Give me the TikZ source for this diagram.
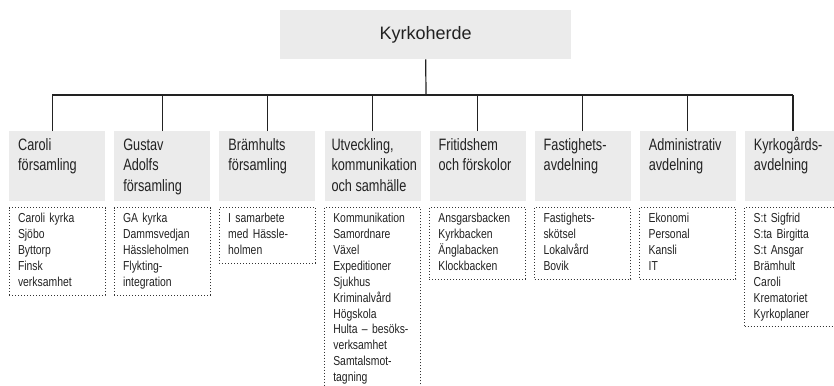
\documentclass[tikz,border=0pt]{standalone}
\usepackage{fontspec}
\setmainfont{Liberation Sans}
\newfontfamily\hdrfont{Liberation Sans}[FakeStretch=0.77]
\newfontfamily\lstfont{Liberation Sans}[FakeStretch=0.8]
\definecolor{boxgray}{HTML}{EBEBEB}
\definecolor{txt}{HTML}{222222}
\definecolor{linec}{HTML}{222222}
\definecolor{dotc}{HTML}{333333}
\begin{document}
\begin{tikzpicture}[x=1pt,y=-1pt,
  hdrbox/.style={fill=boxgray, minimum width=96pt, minimum height=70pt, inner sep=0pt, anchor=north west},
  hdrtext/.style={anchor=north west, inner sep=0pt, align=left, font=\hdrfont\fontsize{16.5}{20.5}\selectfont, text=txt},
  lstbox/.style={draw=dotc, line width=1pt, dash pattern=on 1pt off 2pt, anchor=north west, text width=78pt, inner xsep=9pt, inner ysep=4pt, align=left, font=\lstfont\fontsize{13}{15.9}\selectfont, text=txt},
  conn/.style={draw=linec, line width=1.2pt}]
\useasboundingbox (0,0) rectangle (834,385);
\clip (0,0) rectangle (834,385);

% top box
\node[fill=boxgray, minimum width=291pt, minimum height=49pt, inner sep=0pt, anchor=north west] (boss) at (280,10) {};
\node[font=\fontsize{18}{22}\selectfont, text=txt, inner sep=0pt] (bosstext) at (boss.center) {Kyrkoherde};
\coordinate (bus) at (426,95);

% header boxes
\node[hdrbox] (h1) at (9,131) {};
\node[hdrbox] (h2) at (114.1,131) {};
\node[hdrbox] (h3) at (219.2,131) {};
\node[hdrbox] (h4) at (324.3,131) {};
\node[hdrbox] (h5) at (429.4,131) {};
\node[hdrbox] (h6) at (534.5,131) {};
\node[hdrbox] (h7) at (639.6,131) {};
\node[hdrbox] (h8) at (744.7,131) {};

% header texts
\node[hdrtext] (t1) at ([shift={(9,4.6)}]h1.north west) {\strut Caroli\\\strut församling};
\node[hdrtext] (t2) at ([shift={(9,4.6)}]h2.north west) {\strut Gustav\\\strut Adolfs\\\strut församling};
\node[hdrtext] (t3) at ([shift={(9,4.6)}]h3.north west) {\strut Brämhults\\\strut församling};
\node[hdrtext] (t4) at ([shift={(7,4.6)}]h4.north west) {\strut Utveckling,\\\strut kommunikation\\\strut och samhälle};
\node[hdrtext] (t5) at ([shift={(9,4.6)}]h5.north west) {\strut Fritidshem\\\strut och förskolor};
\node[hdrtext] (t6) at ([shift={(9,4.6)}]h6.north west) {\strut Fastighets-\\\strut avdelning};
\node[hdrtext] (t7) at ([shift={(9,4.6)}]h7.north west) {\strut Administrativ\\\strut avdelning};
\node[hdrtext] (t8) at ([shift={(9,4.6)}]h8.north west) {\strut Kyrkogårds-\\\strut avdelning};

% connectors
\draw[conn] (boss.south) -- (bus);
\draw[conn] ([xshift=-5pt]h1.north |- bus) -- (h8.north |- bus);
\draw[conn] ([xshift=-5pt]h1.north) -- ([xshift=-5pt]h1.north |- bus);
\draw[conn] (h2.north) -- (h2.north |- bus);
\draw[conn] (h3.north) -- (h3.north |- bus);
\draw[conn] (h4.north) -- (h4.north |- bus);
\draw[conn] (h5.north) -- (h5.north |- bus);
\draw[conn] (h6.north) -- (h6.north |- bus);
\draw[conn] (h7.north) -- (h7.north |- bus);
\draw[conn] (h8.north) -- (h8.north |- bus);

% lists
\node[lstbox] (l1) at (8.5,207) {\strut Caroli kyrka\\\strut Sjöbo\\\strut Byttorp\\\strut Finsk\\\strut verksamhet};
\node[lstbox] (l2) at (113.6,207) {\strut GA kyrka\\\strut Dammsvedjan\\\strut Hässleholmen\\\strut Flykting-\\\strut integration};
\node[lstbox] (l3) at (218.7,207) {\strut I samarbete\\\strut med Hässle-\\\strut holmen};
\node[lstbox] (l4) at (323.8,207) {\strut Kommunikation\\\strut Samordnare\\\strut Växel\\\strut Expeditioner\\\strut Sjukhus\\\strut Kriminalvård\\\strut Högskola\\\strut \mbox{Hulta – besöks-}\\\strut verksamhet\\\strut Samtalsmot-\\\strut tagning};
\node[lstbox] (l5) at (428.9,207) {\strut Ansgarsbacken\\\strut Kyrkbacken\\\strut Änglabacken\\\strut Klockbacken};
\node[lstbox] (l6) at (534.0,207) {\strut Fastighets-\\\strut skötsel\\\strut Lokalvård\\\strut Bovik};
\node[lstbox] (l7) at (639.1,207) {\strut Ekonomi\\\strut Personal\\\strut Kansli\\\strut IT};
\node[lstbox] (l8) at (744.2,207) {\strut S:t Sigfrid\\\strut S:ta Birgitta\\\strut S:t Ansgar\\\strut Brämhult\\\strut Caroli\\\strut Krematoriet\\\strut Kyrkoplaner};
\end{tikzpicture}
\end{document}
